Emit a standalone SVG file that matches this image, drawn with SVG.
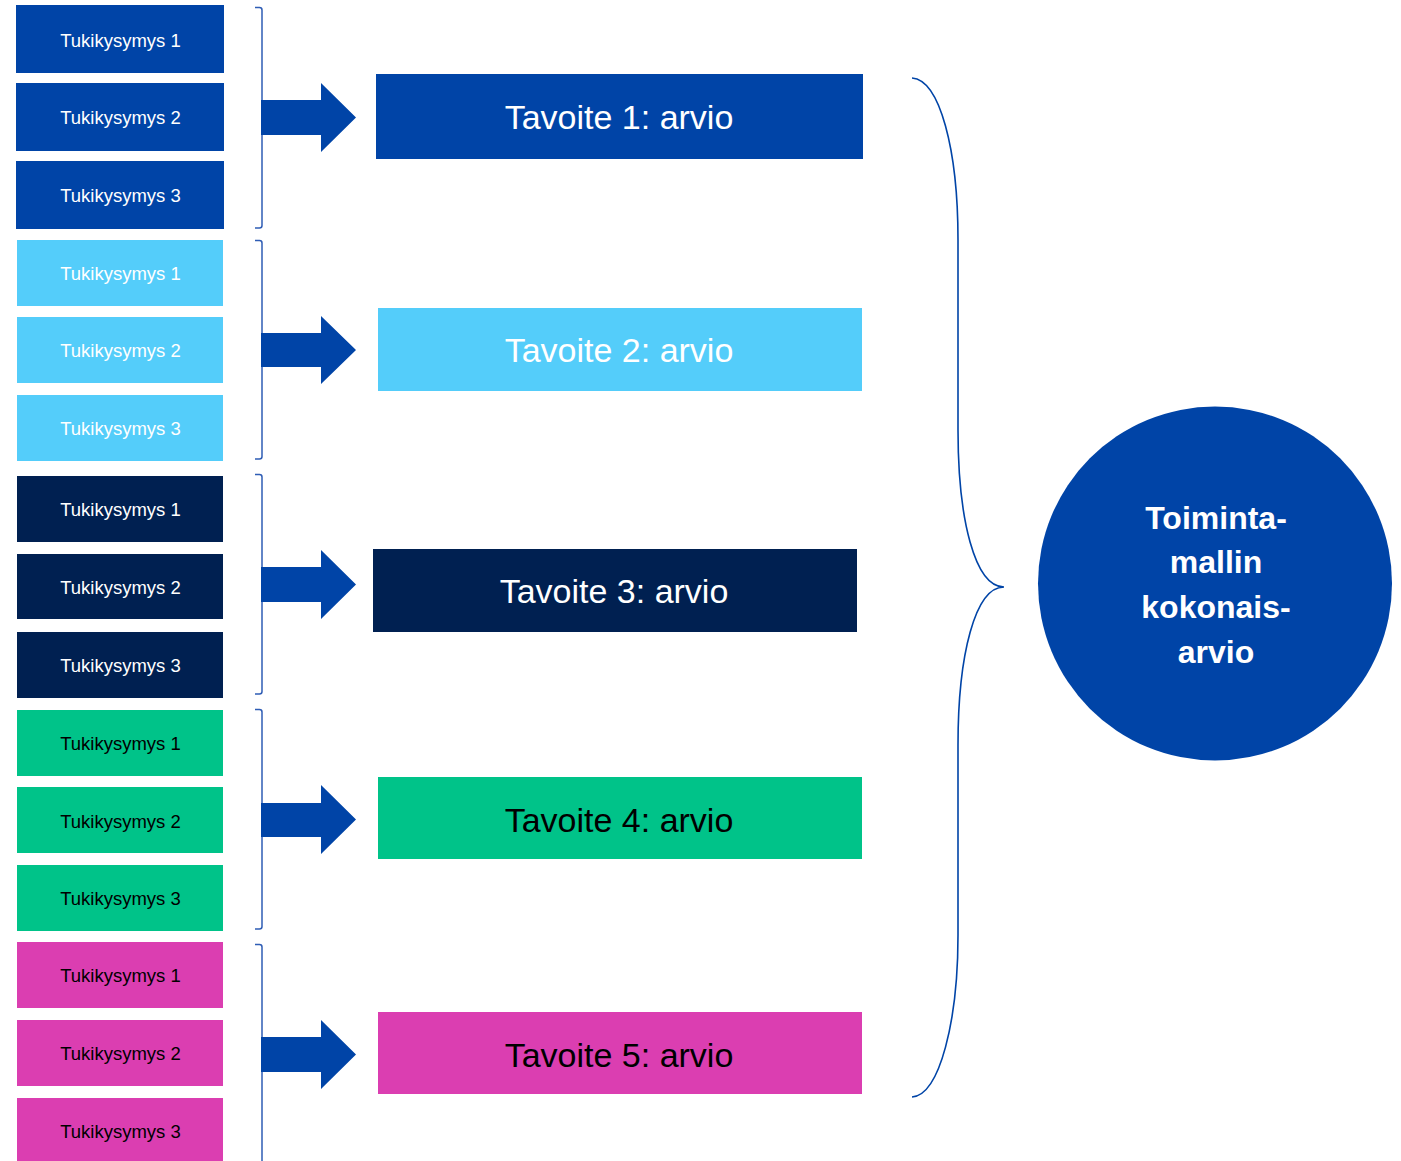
<svg xmlns="http://www.w3.org/2000/svg" width="1401" height="1161" viewBox="0 0 1401 1161">
<defs>
<style>
.q{font-family:"Liberation Sans",Arial,sans-serif;font-size:18.5px;text-anchor:middle}
.t{font-family:"Liberation Sans",Arial,sans-serif;font-size:34px;text-anchor:middle}
.c{font-family:"Liberation Sans",Arial,sans-serif;font-size:32px;font-weight:bold;text-anchor:middle;fill:#ffffff}
.w{fill:#ffffff}
.k{fill:#000000}
.b1{fill:#0044A7}
.b2{fill:#54CDFA}
.b3{fill:#002051}
.b4{fill:#00C389}
.b5{fill:#DB3EB1}
.br{fill:none;stroke:#2F5DB5;stroke-width:1.5}
.ar{fill:#0044A7}
</style>
</defs>
<rect width="1401" height="1161" fill="#ffffff"/>

<g id="group1">
<g id="q1-1"><rect class="b1" x="16" y="5" width="208" height="68"/><text class="q w" x="120.5" y="47">Tukikysymys 1</text></g>
<g id="q1-2"><rect class="b1" x="16" y="83" width="208" height="68"/><text class="q w" x="120.5" y="124">Tukikysymys 2</text></g>
<g id="q1-3"><rect class="b1" x="16" y="161" width="208" height="68"/><text class="q w" x="120.5" y="202">Tukikysymys 3</text></g>
<g id="goal1"><rect class="b1" x="376" y="74" width="487" height="85"/><text class="t w" x="619" y="129">Tavoite 1: arvio</text></g>
</g>

<g id="group2">
<g id="q2-1"><rect class="b2" x="17" y="240" width="206" height="66"/><text class="q w" x="120.5" y="280">Tukikysymys 1</text></g>
<g id="q2-2"><rect class="b2" x="17" y="317" width="206" height="66"/><text class="q w" x="120.5" y="357">Tukikysymys 2</text></g>
<g id="q2-3"><rect class="b2" x="17" y="395" width="206" height="66"/><text class="q w" x="120.5" y="435">Tukikysymys 3</text></g>
<g id="goal2"><rect class="b2" x="378" y="308" width="484" height="83"/><text class="t w" x="619" y="362">Tavoite 2: arvio</text></g>
</g>

<g id="group3">
<g id="q3-1"><rect class="b3" x="17" y="476" width="206" height="66"/><text class="q w" x="120.5" y="516">Tukikysymys 1</text></g>
<g id="q3-2"><rect class="b3" x="17" y="554" width="206" height="65"/><text class="q w" x="120.5" y="594">Tukikysymys 2</text></g>
<g id="q3-3"><rect class="b3" x="17" y="632" width="206" height="66"/><text class="q w" x="120.5" y="672">Tukikysymys 3</text></g>
<g id="goal3"><rect class="b3" x="373" y="549" width="484" height="83"/><text class="t w" x="614" y="603">Tavoite 3: arvio</text></g>
</g>

<g id="group4">
<g id="q4-1"><rect class="b4" x="17" y="710" width="206" height="66"/><text class="q k" x="120.5" y="750">Tukikysymys 1</text></g>
<g id="q4-2"><rect class="b4" x="17" y="787" width="206" height="66"/><text class="q k" x="120.5" y="828">Tukikysymys 2</text></g>
<g id="q4-3"><rect class="b4" x="17" y="865" width="206" height="66"/><text class="q k" x="120.5" y="905">Tukikysymys 3</text></g>
<g id="goal4"><rect class="b4" x="378" y="777" width="484" height="82"/><text class="t k" x="619" y="832">Tavoite 4: arvio</text></g>
</g>

<g id="group5">
<g id="q5-1"><rect class="b5" x="17" y="942" width="206" height="66"/><text class="q k" x="120.5" y="982">Tukikysymys 1</text></g>
<g id="q5-2"><rect class="b5" x="17" y="1020" width="206" height="66"/><text class="q k" x="120.5" y="1060">Tukikysymys 2</text></g>
<g id="q5-3"><rect class="b5" x="17" y="1098" width="206" height="66"/><text class="q k" x="120.5" y="1138">Tukikysymys 3</text></g>
<g id="goal5"><rect class="b5" x="378" y="1012" width="484" height="82"/><text class="t k" x="619" y="1067">Tavoite 5: arvio</text></g>
</g>

<g id="total">
<circle cx="1215" cy="583.5" r="177" fill="#0044A7"/>
<text class="c" x="1216" y="529">Toiminta-</text>
<text class="c" x="1216" y="573">mallin</text>
<text class="c" x="1216" y="618">kokonais-</text>
<text class="c" x="1216" y="663">arvio</text>
</g>

<g id="connectors">
<path class="br" d="M255,7.5 H259.5 Q262,7.5 262,10 V225.5 Q262,228 259.5,228 H255"/>
<path class="br" d="M255,240.5 H259.5 Q262,240.5 262,243 V456.5 Q262,459 259.5,459 H255"/>
<path class="br" d="M255,474.5 H259.5 Q262,474.5 262,477 V691.5 Q262,694 259.5,694 H255"/>
<path class="br" d="M255,709.5 H259.5 Q262,709.5 262,712 V926.5 Q262,929 259.5,929 H255"/>
<path class="br" d="M255,944.5 H259.5 Q262,944.5 262,947 V1165"/>

<polygon class="ar" points="261,100 321,100 321,83 356,117.5 321,152 321,135 261,135"/>
<polygon class="ar" points="261,333 321,333 321,316 356,350 321,384 321,367 261,367"/>
<polygon class="ar" points="261,567 321,567 321,550 356,584.5 321,619 321,602 261,602"/>
<polygon class="ar" points="261,803 321,803 321,785 356,819.5 321,854 321,837 261,837"/>
<polygon class="ar" points="261,1037 321,1037 321,1020 356,1054.5 321,1089 321,1072 261,1072"/>

<path fill="none" stroke="#0044A7" stroke-width="1.6" d="M912,78 C940,80 958,150 958,240 L958,430 C958,520 975,587 1004,587 C975,587 958,655 958,745 L958,935 C958,1020 940,1095 912,1097"/>
</g>
</svg>
